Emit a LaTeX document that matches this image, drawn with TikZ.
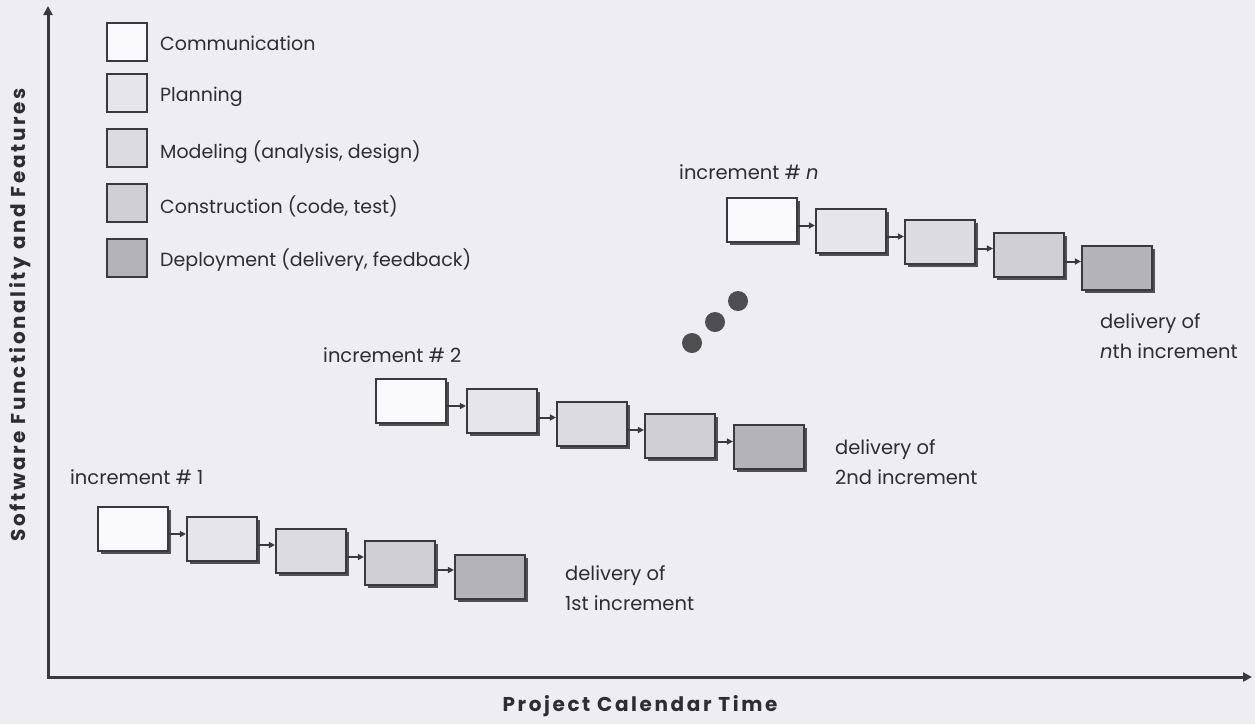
\documentclass[tikz,border=0pt]{standalone}
\usepackage{fontspec}
\setmainfont{Poppins}
\newfontfamily\axisfont[LetterSpace=13]{Poppins}
\usetikzlibrary{shadows,calc,arrows.meta}
\definecolor{bgc}{HTML}{EEEEF2}
\definecolor{edge}{HTML}{3A3A3E}
\definecolor{shd}{HTML}{505054}
\definecolor{cA}{HTML}{FAFAFC}
\definecolor{cB}{HTML}{E6E6EA}
\definecolor{cC}{HTML}{DCDCE0}
\definecolor{cD}{HTML}{D0D0D4}
\definecolor{cE}{HTML}{B4B4B8}
\definecolor{txt}{HTML}{2E2E32}
\tikzset{
  act/.style={draw=edge, line width=2.2pt, minimum width=70pt, minimum height=44pt, inner sep=0pt,
    drop shadow={shadow xshift=3pt, shadow yshift=-3pt, fill=shd, opacity=1}},
  leg/.style={draw=edge, line width=1.8pt, minimum width=40pt, minimum height=38pt, inner sep=0pt},
  lbl/.style={text=txt, font=\fontsize{19}{22}\selectfont, inner sep=0pt},
  dlbl/.style={text=txt, font=\fontsize{19.5}{30}\selectfont, inner sep=0pt, align=left},
  flow/.style={draw=edge, line width=2pt, -{Triangle[length=6pt,width=6pt]}},
  axis/.style={draw=edge, line width=3pt, -{Triangle[length=9pt,width=9pt]}},
  axlab/.style={text=txt, font=\axisfont\bfseries\fontsize{20}{22}\selectfont, inner sep=0pt},
  dot/.style={circle, fill=edge!90!white, minimum size=20pt, inner sep=0pt},
}
\newcommand{\linkpair}[2]{%
  \path let \p1=(#1.center), \p2=(#2.center) in coordinate (m) at (0,{(\y1+\y2)/2});
  \draw[flow] (#1.east |- m) -- (#2.west |- m);}
\begin{document}
\begin{tikzpicture}[x=1pt,y=-1pt]
\fill[bgc] (0,0) rectangle (1255,724);
\useasboundingbox (0,0) rectangle (1255,724);
% axes
\coordinate (o) at (48,677);
\coordinate (ytop) at (48,6);
\coordinate (xend) at (1252,677);
\draw[axis] ($(o)+(0,1.5)$) -- (ytop);
\draw[axis] ($(o)+(-1.5,0)$) -- (xend);
\node[axlab, rotate=90] (ylab) at (20,315) {Software Functionality and Features};
\node[axlab] (xlab) at (640,706) {Project Calendar Time};
% legend
\node[leg, fill=cA] (la) at (127,42) {};
\node[leg, fill=cB] (lb) at (127,93) {};
\node[leg, fill=cC] (lc) at (127,148) {};
\node[leg, fill=cD] (ld) at (127,203) {};
\node[leg, fill=cE] (le) at (127,258) {};
\node[lbl, anchor=west] (ta) at (160,43) {Communication};
\node[lbl, anchor=west] (tb) at (160,97) {Planning};
\node[lbl, anchor=west] (tc) at (160,152) {Modeling (analysis, design)};
\node[lbl, anchor=west] (td) at (160,206) {Construction (code, test)};
\node[lbl, anchor=west] (te) at (160,260) {Deployment (delivery, feedback)};
% increment 1
\node[dlbl, anchor=west] (t1) at (70,477) {increment \# 1};
\node[act, fill=cA] (a1) at (133,529) {};
\node[act, fill=cB] (b1) at (222,539) {};
\node[act, fill=cC] (c1) at (311,551) {};
\node[act, fill=cD] (d1) at (400,563) {};
\node[act, fill=cE] (e1) at (490,577) {};
\linkpair{a1}{b1}\linkpair{b1}{c1}\linkpair{c1}{d1}\linkpair{d1}{e1}
\node[dlbl, anchor=west] (f1) at (565,588) {delivery of\\1st increment};
% increment 2
\node[dlbl, anchor=west] (t2) at (323,355) {increment \# 2};
\node[act, fill=cA] (a2) at (411,401) {};
\node[act, fill=cB] (b2) at (502,411) {};
\node[act, fill=cC] (c2) at (592,424) {};
\node[act, fill=cD] (d2) at (680,436) {};
\node[act, fill=cE] (e2) at (769,447) {};
\linkpair{a2}{b2}\linkpair{b2}{c2}\linkpair{c2}{d2}\linkpair{d2}{e2}
\node[dlbl, anchor=west] (f2) at (835,462) {delivery of\\2nd increment};
% increment n
\node[dlbl, anchor=west] (tn) at (679,172) {increment \# \textit{n}};
\node[act, fill=cA] (an) at (762,220) {};
\node[act, fill=cB] (bn) at (851,231) {};
\node[act, fill=cC] (cn) at (940,242) {};
\node[act, fill=cD] (dn) at (1029,255) {};
\node[act, fill=cE] (en) at (1117,268) {};
\linkpair{an}{bn}\linkpair{bn}{cn}\linkpair{cn}{dn}\linkpair{dn}{en}
\node[dlbl, anchor=west] (fn) at (1100,336) {delivery of\\\textit{n}th increment};
% dots
\node[dot] (p1) at (692,343) {};
\node[dot] (p2) at (715,322) {};
\node[dot] (p3) at (738,301) {};
\end{tikzpicture}
\end{document}
